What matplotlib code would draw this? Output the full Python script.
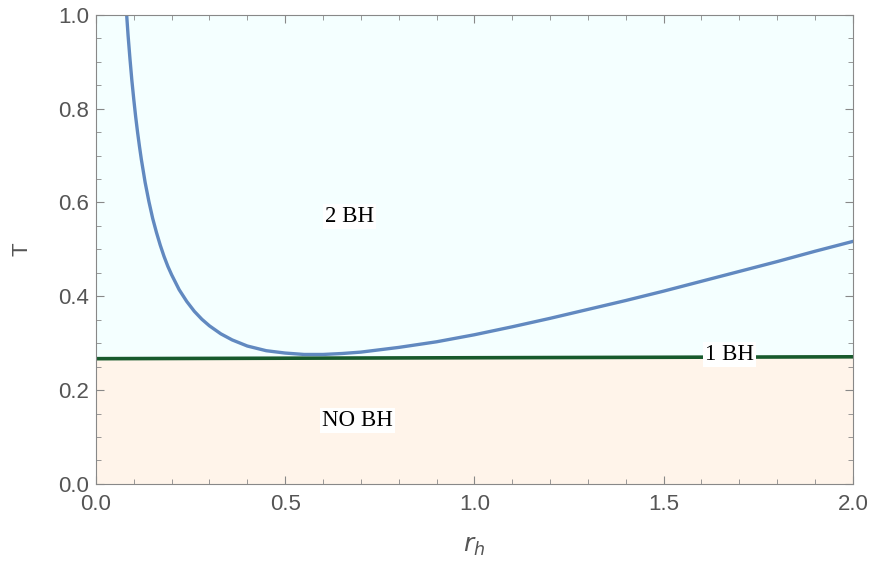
import matplotlib
matplotlib.use("Agg")
import matplotlib.pyplot as plt
from matplotlib.ticker import MultipleLocator

# temperature curve T(r_h)
r_h = [0.08, 0.085, 0.09, 0.095, 0.10, 0.105, 0.11, 0.115, 0.12, 0.13, 0.14, 0.15,
       0.16, 0.17, 0.18, 0.19, 0.20, 0.22, 0.24, 0.26, 0.28, 0.30, 0.33, 0.36, 0.40,
       0.45, 0.50, 0.55, 0.60, 0.65, 0.70, 0.80, 0.90, 1.0, 1.1, 1.2, 1.3, 1.4, 1.5,
       1.6, 1.7, 1.8, 1.9, 2.0]
T = [1.014, 0.956, 0.906, 0.860, 0.820, 0.783, 0.750, 0.720, 0.692, 0.643, 0.602,
     0.566, 0.536, 0.509, 0.485, 0.464, 0.446, 0.414, 0.389, 0.368, 0.351, 0.337,
     0.320, 0.307, 0.294, 0.284, 0.279, 0.276, 0.276, 0.278, 0.281, 0.291, 0.303,
     0.318, 0.335, 0.353, 0.372, 0.391, 0.411, 0.432, 0.453, 0.474, 0.496, 0.517]

# critical line
r_line = [0.0, 2.0]
T_line = [0.267, 0.271]

labels = ["2 BH", "1 BH", "NO BH"]
label_pos = [(0.67, 0.571), (1.675, 0.276), (0.69, 0.136)]

fig = plt.figure(figsize=(8.72, 5.72), dpi=100)
ax = fig.add_axes([0.110, 0.154, 0.868, 0.820])

ax.fill_between(r_line, T_line, [1.0, 1.0], color="#f4ffff", lw=0)
ax.fill_between(r_line, [0.0, 0.0], T_line, color="#fff4ea", lw=0)
ax.plot(r_line, T_line, color="#175a2c", lw=2.6)
ax.plot(r_h, T, color="#6189c0", lw=2.4, solid_joinstyle="round")

for txt, (x, y) in zip(labels, label_pos):
    ax.text(x, y, txt, family="Liberation Serif", fontsize=16.5, ha="center", va="center",
            bbox=dict(facecolor="white", edgecolor="none", pad=1.5))

ax.set_xlim(0, 2)
ax.set_ylim(0, 1)
ax.xaxis.set_major_locator(MultipleLocator(0.5))
ax.xaxis.set_minor_locator(MultipleLocator(0.1))
ax.yaxis.set_major_locator(MultipleLocator(0.2))
ax.yaxis.set_minor_locator(MultipleLocator(0.05))
ax.xaxis.set_major_formatter(plt.FormatStrFormatter("%.1f"))
ax.yaxis.set_major_formatter(plt.FormatStrFormatter("%.1f"))

for s in ax.spines.values():
    s.set_color("#888888")
ax.tick_params(which="both", direction="in", top=True, right=True, color="#888888",
               labelcolor="#555555", labelsize=16)
ax.tick_params(which="major", length=6)
ax.tick_params(which="minor", length=3.5)
ax.tick_params(axis="x", pad=7)
ax.tick_params(axis="y", pad=5)
for lab in ax.get_xticklabels() + ax.get_yticklabels():
    lab.set_family("Liberation Sans")

ax.set_xlabel("$r_h$", fontsize=18, color="#555555", labelpad=14)
ax.set_ylabel("T", fontsize=16, color="#555555", family="Liberation Sans", labelpad=18)

fig.savefig("out.png", dpi=100)
